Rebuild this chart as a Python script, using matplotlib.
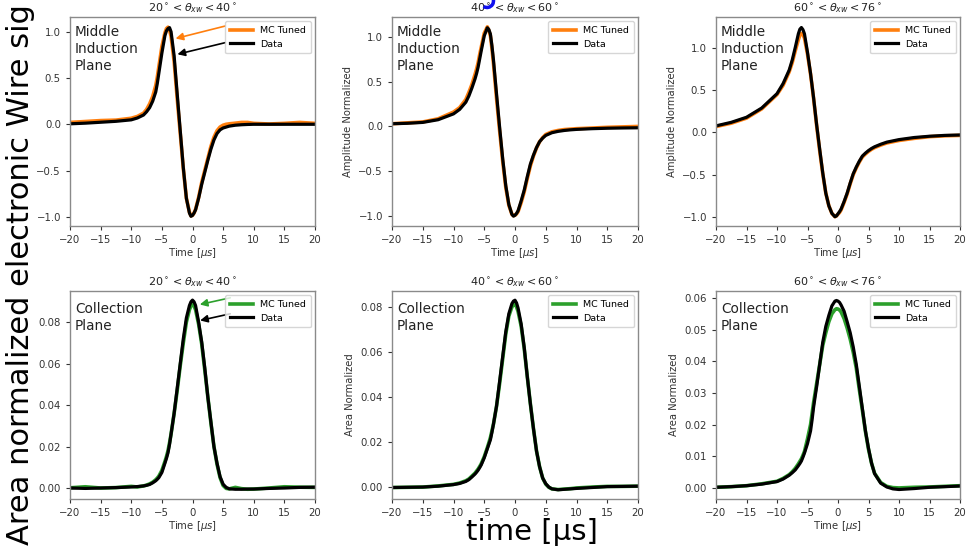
import matplotlib
matplotlib.use("Agg")
import matplotlib.pyplot as plt
from matplotlib.patches import Arc

# ---------------- data ----------------
time_us = [-20, -17.5, -15, -12.5, -10, -9, -8, -7.5, -7, -6.5, -6.25, -6, -5.75, -5.5,
           -5, -4.5, -4.25, -4, -3.75, -3.5, -3, -2.5, -2, -1.5, -1, -0.5, -0.25, 0, 0.25,
           0.5, 1, 1.5, 2, 2.5, 3, 3.5, 4, 4.5, 5, 5.5, 6, 7, 8, 9, 10, 12.5, 15, 17.5, 20]

# Middle induction plane, 20-40 deg
ind1_data = [0.005, 0.012, 0.022, 0.032, 0.048, 0.068, 0.10, 0.135, 0.18, 0.25, 0.30, 0.35,
             0.44, 0.55, 0.77, 0.96, 1.01, 1.035, 1.045, 1.0, 0.74, 0.33, -0.07, -0.47, -0.80,
             -0.96, -0.995, -0.985, -0.96, -0.925, -0.80, -0.65, -0.52, -0.39, -0.27, -0.17,
             -0.10, -0.06, -0.04, -0.03, -0.02, -0.01, -0.005, -0.002, 0.0, 0.0, 0.0, 0.0, 0.0]
ind1_mc = [0.02, 0.03, 0.04, 0.045, 0.065, 0.085, 0.12, 0.16, 0.22, 0.30, 0.36, 0.42, 0.51,
           0.62, 0.84, 0.99, 1.035, 1.05, 1.02, 0.95, 0.68, 0.28, -0.10, -0.48, -0.80, -0.95,
           -0.99, -0.985, -0.96, -0.92, -0.79, -0.63, -0.50, -0.37, -0.24, -0.14, -0.07,
           -0.03, -0.01, 0.0, 0.005, 0.012, 0.02, 0.02, 0.01, 0.003, 0.01, 0.02, 0.01]

# Middle induction plane, 40-60 deg
ind2_data = [0.03, 0.035, 0.045, 0.075, 0.14, 0.19, 0.27, 0.34, 0.43, 0.53, 0.59, 0.66, 0.75,
             0.84, 1.01, 1.10, 1.08, 1.03, 0.90, 0.74, 0.36, -0.01, -0.36, -0.66, -0.87, -0.98,
             -1.0, -0.99, -0.97, -0.94, -0.83, -0.71, -0.56, -0.42, -0.32, -0.235, -0.17,
             -0.13, -0.10, -0.085, -0.07, -0.055, -0.045, -0.038, -0.033, -0.025, -0.02,
             -0.017, -0.015]
ind2_mc = [0.03, 0.04, 0.05, 0.085, 0.16, 0.21, 0.30, 0.38, 0.47, 0.58, 0.64, 0.71, 0.80,
           0.88, 1.04, 1.11, 1.07, 1.01, 0.87, 0.70, 0.31, -0.05, -0.39, -0.68, -0.88, -0.98,
           -0.995, -0.99, -0.975, -0.95, -0.85, -0.73, -0.58, -0.44, -0.33, -0.24, -0.17,
           -0.125, -0.09, -0.075, -0.06, -0.045, -0.035, -0.03, -0.025, -0.018, -0.01,
           -0.005, 0.0]

# Middle induction plane, 60-76 deg
ind3_data = [0.078, 0.12, 0.18, 0.29, 0.46, 0.58, 0.74, 0.86, 1.01, 1.17, 1.225, 1.245, 1.22,
             1.17, 0.95, 0.70, 0.555, 0.41, 0.25, 0.09, -0.20, -0.48, -0.72, -0.87, -0.96,
             -1.0, -0.99, -0.965, -0.94, -0.91, -0.82, -0.72, -0.60, -0.49, -0.41, -0.34,
             -0.28, -0.245, -0.215, -0.19, -0.17, -0.14, -0.115, -0.10, -0.085, -0.06, -0.045,
             -0.035, -0.03]
ind3_mc = [0.07, 0.11, 0.17, 0.28, 0.45, 0.56, 0.72, 0.83, 0.97, 1.10, 1.155, 1.175, 1.16,
           1.12, 0.93, 0.69, 0.55, 0.40, 0.24, 0.08, -0.22, -0.49, -0.72, -0.87, -0.96, -1.0,
           -0.99, -0.97, -0.95, -0.92, -0.83, -0.73, -0.61, -0.50, -0.42, -0.35, -0.29,
           -0.255, -0.225, -0.20, -0.18, -0.15, -0.125, -0.11, -0.095, -0.07, -0.05, -0.04,
           -0.035]

# Collection plane, 20-40 deg
col1_data = [0.0, -0.0002, 0.0, 0.0002, 0.0005, 0.0007, 0.001, 0.0013, 0.0017, 0.0025, 0.003,
             0.0035, 0.0042, 0.005, 0.0075, 0.012, 0.0143, 0.017, 0.021, 0.026, 0.036, 0.048,
             0.060, 0.072, 0.082, 0.088, 0.0898, 0.0906, 0.0898, 0.088, 0.080, 0.0705, 0.058,
             0.044, 0.032, 0.020, 0.012, 0.0055, 0.0018, 0.0003, -0.0004, -0.0006, -0.0006,
             -0.0005, -0.0005, -0.0002, 0.0, 0.0003, 0.0004]
col1_mc = [0.0001, 0.0006, 0.0, 0.0002, 0.0008, 0.0005, 0.001, 0.0014, 0.002, 0.0028, 0.0034,
           0.004, 0.0048, 0.0057, 0.0085, 0.0128, 0.0152, 0.018, 0.0218, 0.026, 0.036, 0.047,
           0.059, 0.070, 0.080, 0.086, 0.0878, 0.0885, 0.0878, 0.086, 0.079, 0.0695, 0.057,
           0.044, 0.0315, 0.020, 0.0115, 0.005, 0.0012, -0.0002, -0.0004, 0.0003, -0.0003,
           -0.0006, -0.0005, 0.0, 0.0006, 0.0004, 0.0003]

# Collection plane, 40-60 deg
col2_data = [-0.0002, -0.0001, 0.0, 0.0004, 0.0011, 0.0016, 0.0025, 0.0033, 0.0045, 0.0058,
             0.0066, 0.0075, 0.0086, 0.0098, 0.013, 0.017, 0.019, 0.021, 0.0243, 0.028, 0.036,
             0.047, 0.058, 0.069, 0.077, 0.0815, 0.0826, 0.083, 0.0818, 0.0795, 0.0725, 0.062,
             0.049, 0.037, 0.026, 0.016, 0.009, 0.004, 0.0015, 0.0, -0.0008, -0.0012, -0.001,
             -0.0008, -0.0006, -0.0002, 0.0002, 0.0003, 0.0004]
col2_mc = [-0.0002, -0.0001, 0.0, 0.0005, 0.0012, 0.0018, 0.0028, 0.0036, 0.0049, 0.0062,
           0.0071, 0.0080, 0.0091, 0.0103, 0.0135, 0.0175, 0.0197, 0.022, 0.025, 0.028, 0.036,
           0.046, 0.057, 0.068, 0.076, 0.080, 0.081, 0.0815, 0.080, 0.078, 0.0715, 0.0615,
           0.049, 0.037, 0.026, 0.016, 0.009, 0.004, 0.0013, -0.0001, -0.0008, -0.0011,
           -0.0009, -0.0007, -0.0004, 0.0, 0.0003, 0.0003, 0.0004]

# Collection plane, 60-76 deg
col3_data = [0.0002, 0.0004, 0.0007, 0.0012, 0.002, 0.0028, 0.004, 0.0048, 0.0057, 0.007,
             0.0077, 0.0085, 0.0097, 0.011, 0.014, 0.018, 0.0215, 0.0255, 0.0288, 0.032, 0.039,
             0.046, 0.051, 0.0545, 0.0575, 0.059, 0.0592, 0.059, 0.0586, 0.0578, 0.0558,
             0.0525, 0.049, 0.0445, 0.039, 0.032, 0.025, 0.018, 0.0125, 0.0078, 0.0045,
             0.0015, 0.0003, -0.0003, -0.0005, -0.0002, 0.0002, 0.0004, 0.0006]
col3_mc = [0.0002, 0.0004, 0.0007, 0.0013, 0.0021, 0.003, 0.0042, 0.0051, 0.0062, 0.0076,
           0.0084, 0.0092, 0.0103, 0.0115, 0.0155, 0.020, 0.0235, 0.027, 0.030, 0.033, 0.039,
           0.045, 0.049, 0.0525, 0.055, 0.0563, 0.0566, 0.0565, 0.0562, 0.0556, 0.0535,
           0.0505, 0.047, 0.0428, 0.0378, 0.031, 0.0245, 0.0178, 0.0122, 0.0078, 0.0046,
           0.0017, 0.0005, 0.0001, 0.0, 0.0002, 0.0003, 0.0005, 0.0007]

titles = [r'$20^\circ < \theta_{xw} < 40^\circ$',
          r'$40^\circ < \theta_{xw} < 60^\circ$',
          r'$60^\circ < \theta_{xw} < 76^\circ$']
legend_labels = ['MC Tuned', 'Data']
plane_labels = ['Middle\nInduction\nPlane', 'Collection\nPlane']
ylabels_top = [None, 'Amplitude Normalized', 'Amplitude Normalized']
ylabels_bot = [None, 'Area Normalized', 'Area Normalized']
xlabel = r'Time [$\mu s$]'
big_ylabel = 'Area normalized electronic Wire sig'
big_xlabel = 'time [\u03bcs]'

ylims_top = [(-1.10, 1.16), (-1.11, 1.22), (-1.11, 1.37)]
ylims_bot = [(-0.0053, 0.095), (-0.0053, 0.0871), (-0.0035, 0.0622)]

# ---------------- figure ----------------
plt.rcParams['font.family'] = ['DejaVu Sans']
W, H = 968, 551
fig = plt.figure(figsize=(W / 100, H / 100), dpi=100)

cols = [(70, 315), (392, 638), (716, 960)]
rows = [(17, 226), (291, 499)]

ORANGE = '#ff7f0e'
GREEN = '#2ca02c'
tick_fs = 7.3

top_data = [ind1_data, ind2_data, ind3_data]
top_mc = [ind1_mc, ind2_mc, ind3_mc]
bot_data = [col1_data, col2_data, col3_data]
bot_mc = [col1_mc, col2_mc, col3_mc]

axes = {}
for r, (ytop, ybot) in enumerate(rows):
    for c, (xl, xr) in enumerate(cols):
        ax = fig.add_axes([xl / W, 1 - ybot / H, (xr - xl) / W, (ybot - ytop) / H])
        axes[(r, c)] = ax
        mc = top_mc[c] if r == 0 else bot_mc[c]
        dat = top_data[c] if r == 0 else bot_data[c]
        mc_col = ORANGE if r == 0 else GREEN
        ax.plot(time_us, mc, color=mc_col, lw=2.6, label=legend_labels[0],
                solid_joinstyle='round')
        ax.plot(time_us, dat, color='black', lw=2.3, label=legend_labels[1],
                solid_joinstyle='round')
        ax.set_xlim(-20, 20)
        ax.set_ylim(*(ylims_top[c] if r == 0 else ylims_bot[c]))
        ax.set_xticks([-20, -15, -10, -5, 0, 5, 10, 15, 20])
        ax.tick_params(labelsize=tick_fs, colors='#333333', length=3, width=0.8)
        for s in ax.spines.values():
            s.set_color('#8a8a8a')
            s.set_linewidth(1.0)
        ax.set_title(titles[c], fontsize=8, pad=4, color='#222222')
        if not (r == 1 and c == 1):
            ax.set_xlabel(xlabel, fontsize=7.3, labelpad=1, color='#333333')
        yl = ylabels_top[c] if r == 0 else ylabels_bot[c]
        if yl:
            ax.set_ylabel(yl, fontsize=7.2, color='#333333')
        ax.text(0.02, 0.96 if r == 0 else 0.945, plane_labels[r], transform=ax.transAxes,
                ha='left', va='top', fontsize=9.8, color='#222222', linespacing=1.25)
        leg = ax.legend(loc='upper right', fontsize=6.8, handlelength=2.4,
                        borderaxespad=0.45, framealpha=0.8, borderpad=0.5)
        leg.get_frame().set_edgecolor('#cccccc')

# annotation arrows
a = axes[(0, 0)]
a.annotate('', xy=(-3.2, 0.92), xytext=(5.8, 1.07),
           arrowprops=dict(arrowstyle='-|>', color=ORANGE, lw=1.2, mutation_scale=11))
a.annotate('', xy=(-2.9, 0.75), xytext=(5.8, 0.89),
           arrowprops=dict(arrowstyle='-|>', color='black', lw=1.2, mutation_scale=11))
b = axes[(1, 0)]
b.annotate('', xy=(0.75, 0.0882), xytext=(6.6, 0.092),
           arrowprops=dict(arrowstyle='-|>', color=GREEN, lw=1.2, mutation_scale=11))
b.annotate('', xy=(0.8, 0.0805), xytext=(6.6, 0.0843),
           arrowprops=dict(arrowstyle='-|>', color='black', lw=1.2, mutation_scale=11))

# big labels
fig.text(0.021, 0.011, big_ylabel, rotation=90, ha='center', va='bottom',
         fontsize=22, color='black')
fig.text(0.55, 0.034, big_xlabel, ha='center', va='center', fontsize=21, color='black')

# blue scribble near the middle title
fig.add_artist(Arc((487 / W, 1 - 1 / H), 13 / W, 13 / H, theta1=-110, theta2=70,
                   transform=fig.transFigure, color='#1010ee', lw=2.5))

fig.savefig('out.png', dpi=100)
